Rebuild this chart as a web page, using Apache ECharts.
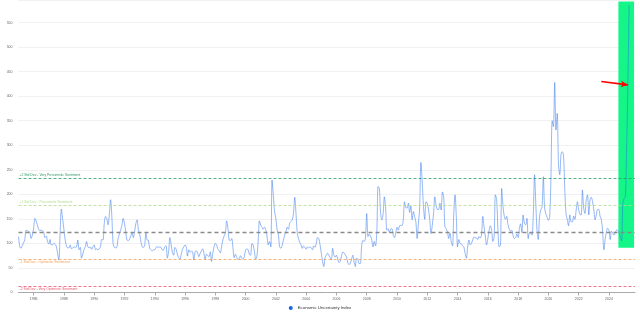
<!DOCTYPE html>
<html><head><meta charset="utf-8">
<script src="https://cdn.jsdelivr.net/npm/echarts@6/dist/echarts.min.js"></script>
<style>html,body{margin:0;padding:0;background:#fff}#c{width:640px;height:314px}</style>
</head><body><div id="c"></div>
<script>
// Monthly values, starting January 1985
const startYear = 1985;
const v1985_1994 = [
 114,93,90,95,101,107,127,126,124,123,110,117,
 131,151,146,138,129,126,127,126,123,112,115,104,
 99,108,97,97,100,98,95,80,66,120,170,150,
 129,107,95,91,91,97,89,91,93,92,93,107,
 87,92,70,78,88,93,104,93,91,93,88,93,
 97,87,89,87,89,93,108,107,141,155,151,138,
 158,189,158,100,92,91,92,110,119,127,137,151,
 141,124,107,106,108,115,121,112,124,140,148,129,
 119,104,93,92,95,121,107,106,90,87,85,87,
 87,92,93,92,93,92,87,87,93,95,70,83
];
const v1995_2004 = [
 112,97,82,76,92,88,78,71,68,78,88,93,
 97,92,74,87,82,84,83,66,83,85,80,73,
 80,85,89,80,67,78,76,73,83,63,80,93,
 100,97,89,85,81,93,107,115,121,146,131,107,
 106,110,92,71,78,72,67,69,75,70,68,73,
 87,89,87,78,76,100,97,83,68,74,107,146,
 137,133,129,133,129,115,97,104,93,229,198,165,
 151,127,119,93,90,96,106,117,124,133,129,142,
 145,148,161,194,161,121,110,102,97,90,95,92,
 88,93,91,93,91,87,95,92,100,112,110,97
];
const v2005_2014 = [
 80,63,53,71,76,80,76,71,66,90,76,72,
 76,68,61,63,73,82,81,77,72,61,57,59,
 68,76,63,53,70,68,59,59,95,106,104,110,
 161,114,119,115,107,93,104,95,124,216,212,161,
 148,161,195,173,127,130,122,129,130,117,112,121,
 133,127,136,137,136,148,185,173,172,182,163,176,
 148,165,155,144,110,141,172,265,226,175,149,185,
 182,168,148,120,137,161,195,178,169,169,182,168,
 205,194,134,130,124,110,121,104,95,161,199,155,
 93,108,100,99,95,93,80,70,93,107,97,100
];
const v2015_2025 = [
 107,113,112,111,108,114,111,117,155,134,115,97,
 110,127,136,127,104,114,199,189,127,93,97,212,
 175,155,149,155,138,129,125,127,116,110,112,119,
 112,131,140,122,158,141,138,151,110,121,121,117,
 158,240,185,127,108,155,168,175,236,172,160,153,
 147,155,230,350,338,428,331,365,260,240,282,287,
 278,205,161,148,136,158,144,144,156,149,168,185,
 168,159,158,209,172,161,189,199,158,189,194,185,
 168,148,158,169,169,155,149,124,87,108,124,131,
 127,108,125,121,117,121,127,127,121,112,105,182,
 192,196,290,423,586
];
const tickYears = ['1986','1988','1990','1992','1994','1996','1998','2000','2002','2004','2006','2008','2010','2012','2014','2016','2018','2020','2022','2024'];
const bandNames = ['+2 Std Dev - Very Pessimistic Sentiment','+1 Std Dev - Pessimistic Sentiment','Mean','-1 Std Dev - Optimistic Sentiment','-2 Std Dev - Very Optimistic Sentiment'];
const bandValues = [233.2, 177.9, 122.6, 67.3, 12.0];
const bandColors = ['#2e9a66','#b3dc8e','#8a8a8a','#f5a057','#e9536a'];
const highlightX = ['2024-08-15','2025-08-28'];
const highlightY = [91, 593];
const arrowFrom = ['2023-07-01', 430];
const arrowTo = ['2025-04-01', 423];

const values = [].concat(v1985_1994, v1995_2004, v2005_2014, v2015_2025);
const data = values.map((v, k) => [Date.UTC(startYear, k, 1), v]);
const ts = s => { const p = s.split('-').map(Number); return Date.UTC(p[0], p[1]-1, p[2]); };
const tickPos = tickYears.map(y => Date.UTC(+y, 0, 1));

const chart = echarts.init(document.getElementById('c'), null, {renderer:'canvas'});
const bandLines = bandValues.map((v, i) => ({
  yAxis: v, name: bandNames[i],
  lineStyle: {color: bandColors[i], type: i === 2 ? [4,3] : [3,2], width: i === 2 ? 1.4 : 0.8},
  label: i === 2 ? {show:false} : {
    show:true, formatter: bandNames[i], color: bandColors[i], fontSize: 3.4,
    position: i < 2 ? 'insideStartTop' : 'insideStartBottom', distance: [1, 1.2]
  }
}));
chart.setOption({
  animation: false,
  grid: {left: 18.5, right: 5, top: 0.5, bottom: 21.5, containLabel: false, outerBoundsMode: 'none'},
  legend: {
    bottom: -1, left: 'center', itemWidth: 4, itemHeight: 4, itemGap: 4,
    icon: 'circle', textStyle: {fontSize: 4.3, color: '#333'},
    data: ['Economic Uncertainty Index']
  },
  xAxis: {
    type: 'value', min: Date.UTC(1985,0,1), max: Date.UTC(2025,8,20),
    axisLine: {lineStyle: {color: '#aaa', width: 1}},
    axisTick: {show: true, length: 3, lineStyle: {color: '#aaa'}, customValues: tickPos},
    axisLabel: {fontSize: 3.5, color: '#666', margin: 5, customValues: tickPos,
      formatter: v => String(new Date(v).getUTCFullYear())},
    splitLine: {show: false}
  },
  yAxis: {
    type: 'value', min: 0, max: 595, interval: 50,
    name: 'Values', nameLocation: 'middle', nameGap: 12,
    nameTextStyle: {fontSize: 4.5, color: '#666', padding: [0,0,0,28]},
    axisLine: {show: false}, axisTick: {show: false},
    axisLabel: {fontSize: 3.5, color: '#666', margin: 6, showMaxLabel: false},
    splitLine: {lineStyle: {color: '#eeeeee', width: 0.8}}
  },
  series: [{
    type: 'line', name: 'highlight', data: data, z: 1,
    showSymbol: false, silent: true, lineStyle: {opacity: 0},
    markArea: {silent: true, itemStyle: {color: 'rgba(0,245,125,0.92)'},
      data: [[{coord: [ts(highlightX[0]), highlightY[0]]}, {coord: [ts(highlightX[1]), highlightY[1]]}]]}
  }, {
    type: 'line', name: 'Economic Uncertainty Index', data: data, z: 3,
    showSymbol: false, smooth: 0.3,
    lineStyle: {width: 0.9, color: 'rgba(40,110,235,0.55)'},
    itemStyle: {color: '#1a66e0'},
    markLine: {silent: true, symbol: 'none', animation: false,
      data: bandLines.concat([[
        {coord: [ts(arrowFrom[0]), arrowFrom[1]], symbol: 'none', lineStyle: {color:'#ff0000', width:1.6, type:'solid'}, label:{show:false}},
        {coord: [ts(arrowTo[0]), arrowTo[1]], symbol: 'arrow', symbolSize: [5,7], lineStyle: {color:'#ff0000', width:1.6, type:'solid'}, label:{show:false}}
      ]])}
  }]
});
</script></body></html>
